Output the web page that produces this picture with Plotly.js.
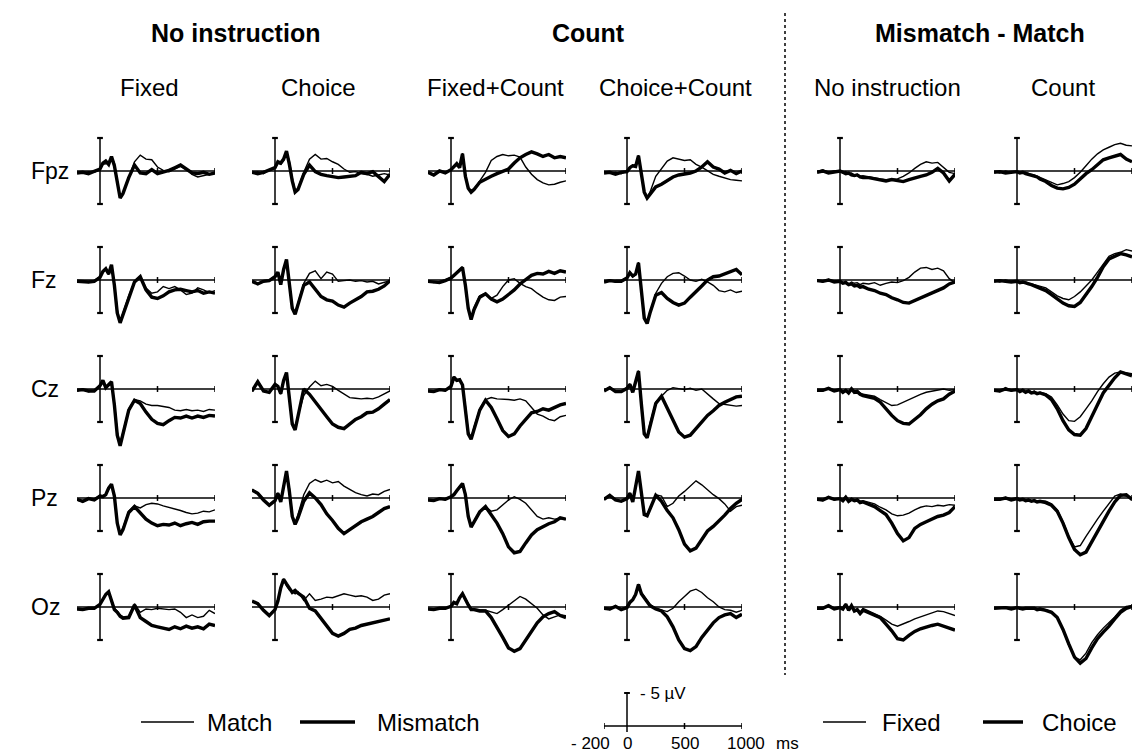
<!DOCTYPE html>
<html><head><meta charset="utf-8">
<script src="https://cdn.plot.ly/plotly-3.0.1.min.js"></script>
<style>html,body{margin:0;padding:0;background:#fff;} #chart{width:1134px;height:754px;}</style>
</head><body><div id="chart"></div>
<script>
// time axis (ms)
const times = [-200,-150,-100,-50,0, 25,50,75,100,125,150,175,200, 250,300,350,400,450,500,550,600,650,700,750,800,850,900,950,1000];

const rowLabels = ['Fpz','Fz','Cz','Pz','Oz'];
const groupTitles = ['No instruction','Count','Mismatch - Match'];
const colTitles = ['Fixed','Choice','Fixed+Count','Choice+Count','No instruction','Count'];
const legendLeft = ['Match','Mismatch'];
const legendRight = ['Fixed','Choice'];
const scaleTickLabels = ['- 200','0','500','1000'];
const scaleTickValues = [-200,0,500,1000];

// values in microvolts (negative plotted upward)
// ---- Fpz ----
const fpz_fixed_match      = [0.2,0.3,0.1,0.2,-0.2, -1.0,-1.1,-1.3,-2.1,-1.2,1.5,4.0,3.5, 1.2,-1.4,-2.4,-1.8,-1.7,-0.6,-0.1,0.1,-0.3,-0.7,-0.3,0.5,0.9,0.7,0.4,0.3];
const fpz_fixed_mismatch   = [0.3,0.2,0.4,0.1,-0.3, -1.2,-1.5,-1.0,-2.2,-0.8,2.0,4.1,3.4, 1.0,-0.9,0.3,0.4,-0.2,0.4,0.2,-0.1,-0.5,-0.9,-0.3,0.3,0.4,0.2,0.5,0.3];
const fpz_choice_match     = [0.3,0.1,0.4,-0.2,-0.4, -1.2,-1.0,-1.6,-2.9,-1.5,1.0,3.0,2.6, 0.2,-1.8,-2.5,-1.8,-1.9,-1.4,-1.0,-0.3,0.2,0.1,0.4,0.5,0.8,0.6,0.4,0.6];
const fpz_choice_mismatch  = [0.2,0.4,0.2,-0.1,-0.5, -1.4,-1.2,-1.8,-3.0,-1.0,1.5,3.2,2.8, 0.5,-0.9,0.1,0.5,0.7,0.9,1.0,0.9,0.8,0.7,0.2,0.4,0.1,0.8,1.6,0.5];
const fpz_fixcount_match   = [0.2,0.5,0.1,0.3,-0.3, -0.8,-1.0,-0.7,-2.7,0.5,2.5,3.2,2.8, 1.5,0.2,-1.6,-2.2,-2.5,-2.3,-2.4,-2.1,-0.6,0.5,1.3,1.8,2.1,2.0,1.7,1.5];
const fpz_fixcount_mismatch= [0.2,0.6,0.0,0.3,-0.2, -0.7,-1.1,-0.5,-2.6,0.8,2.6,3.2,2.8, 1.7,1.2,0.8,0.4,0.1,-0.3,-1.2,-2.0,-2.5,-2.9,-2.6,-2.2,-2.5,-2.0,-2.2,-2.0];
const fpz_chocount_match   = [0.1,0.3,0.2,0.4,0.0, -0.6,-0.9,-0.8,-2.4,0.5,3.0,4.0,3.2, 0.8,-0.3,-1.5,-2.0,-1.8,-1.6,-1.7,-1.0,-0.6,-0.1,0.5,0.8,1.1,1.3,1.4,1.5];
const fpz_chocount_mismatch= [0.3,0.2,0.5,0.2,0.1, -0.5,-0.8,-0.7,-2.3,0.8,3.2,4.1,3.5, 2.4,2.0,1.5,0.9,0.6,0.5,0.3,0.0,-0.6,-1.4,-0.6,-0.3,0.3,-0.1,0.4,0.0];
const fpz_dnoinst_fixed    = [0.1,-0.2,0.2,0.0,0.1, 0.3,0.1,0.4,0.3,0.6,0.5,0.8,0.7, 0.9,1.0,1.2,1.3,1.3,1.2,0.8,0.3,-0.4,-1.0,-1.4,-1.2,-1.3,-0.6,0.2,0.4];
const fpz_dnoinst_choice   = [0.2,0.0,0.3,0.1,0.0, 0.2,0.4,0.3,0.6,0.7,0.6,0.9,1.0, 1.0,1.2,1.4,1.5,1.3,1.4,1.6,1.3,1.0,0.8,0.6,0.2,-0.4,0.3,1.5,0.5];
const fpz_dcount_fixed     = [0.1,0.3,0.0,0.2,0.1, 0.2,0.3,0.2,0.4,0.5,0.6,0.8,1.0, 1.3,1.8,2.1,1.9,1.6,1.0,0.2,-0.8,-1.8,-2.6,-3.2,-3.6,-4.0,-4.2,-3.9,-3.8];
const fpz_dcount_choice    = [0.2,0.1,0.3,0.2,0.1, 0.3,0.2,0.4,0.5,0.6,0.7,0.9,1.2, 1.6,2.2,2.6,2.7,2.5,2.0,1.2,0.4,-0.2,-0.9,-1.7,-2.0,-2.2,-2.5,-1.8,-1.4];
// ---- Fz ----
const fz_fixed_match       = [0.3,0.2,0.4,0.1,-0.5, -1.2,-1.6,-0.8,-2.2,0.5,4.5,6.3,5.0, 2.4,0.2,-0.6,1.2,2.0,1.8,1.0,1.3,1.0,1.5,2.2,2.0,1.2,1.5,1.9,1.6];
const fz_fixed_mismatch    = [0.2,0.3,0.3,0.2,-0.4, -1.3,-1.7,-0.9,-2.3,0.8,5.0,6.5,5.2, 2.5,0.3,-0.5,1.5,2.6,2.8,2.4,1.8,1.5,1.4,1.6,1.8,1.6,2.0,1.8,2.0];
const fz_choice_match      = [0.3,0.5,0.1,0.0,-0.6, -1.1,0.6,-1.5,-3.0,0.5,4.0,5.0,3.5, 0.5,-1.0,-1.4,-0.2,-1.2,-0.9,0.2,0.1,0.0,0.2,0.1,0.3,0.2,0.6,0.3,0.1];
const fz_choice_mismatch   = [0.2,0.6,0.2,0.1,-0.5, -1.2,0.7,-1.6,-3.1,0.8,4.3,5.2,3.8, 0.8,0.3,1.5,2.5,3.0,3.2,3.8,4.1,3.5,3.0,2.5,1.8,1.7,1.4,0.9,0.1];
const fz_fixcount_match    = [0.1,0.4,0.2,0.0,-0.4, -0.8,-1.2,-1.5,-2.0,0.5,4.0,5.8,4.2, 2.4,2.0,2.8,2.3,1.0,0.0,-0.2,0.5,1.0,1.3,2.0,2.6,3.0,3.1,2.6,2.5];
const fz_fixcount_mismatch = [0.2,0.3,0.4,0.1,-0.3, -0.7,-1.1,-1.4,-1.9,0.8,4.3,6.0,4.5, 2.6,2.1,2.9,3.3,2.9,2.2,1.5,0.6,0.0,-0.7,-1.0,-0.9,-1.3,-1.0,-1.4,-1.2];
const fz_chocount_match    = [0.2,0.0,0.3,0.1,-0.4, -1.2,-0.5,-0.8,-2.7,1.0,5.5,6.4,4.8, 2.0,0.5,-0.5,-1.0,-1.1,-0.6,0.0,0.2,-0.1,0.3,0.8,1.6,1.8,1.5,1.9,1.7];
const fz_chocount_mismatch = [0.3,0.1,0.2,0.2,-0.3, -1.1,-0.6,-0.9,-2.6,1.2,5.8,6.6,5.0, 2.3,1.9,2.8,3.4,3.8,3.5,2.6,1.8,0.9,0.0,-0.5,-0.6,-0.9,-1.2,-1.6,-0.8];
const fz_dnoinst_fixed     = [0.0,0.3,-0.1,0.2,0.1, 0.4,0.2,0.6,0.3,0.5,0.4,0.7,0.5, 0.6,0.4,0.8,0.5,0.3,0.4,0.1,-0.4,-1.2,-1.8,-1.9,-1.6,-1.8,-1.4,-0.2,0.4];
const fz_dnoinst_choice    = [0.1,0.2,0.0,0.3,0.2, 0.5,0.4,0.7,0.6,0.9,0.8,1.1,1.0, 1.4,1.6,2.0,2.2,2.7,3.0,3.4,3.5,3.1,2.7,2.4,2.0,1.6,1.2,0.6,0.3];
const fz_dcount_fixed      = [0.1,0.3,0.0,0.2,0.1, 0.3,0.4,0.3,0.5,0.6,0.7,0.8,0.9, 1.2,1.8,2.4,2.8,3.0,2.5,1.8,0.9,0.0,-1.2,-2.5,-3.6,-4.0,-4.2,-4.6,-4.4];
const fz_dcount_choice     = [0.2,0.1,0.2,0.3,0.2, 0.4,0.3,0.5,0.6,0.7,0.9,1.0,1.2, 1.6,2.2,2.9,3.5,3.9,4.0,3.4,2.3,1.0,-0.4,-2.0,-3.2,-3.6,-4.0,-3.8,-3.5];
// ---- Cz ----
const cz_fixed_match       = [0.3,0.0,0.4,0.2,-0.6, -1.2,-0.3,-0.5,-1.0,2.0,6.5,8.3,6.5, 3.0,1.6,1.8,2.3,2.5,2.5,2.7,2.8,3.2,3.3,3.1,3.3,3.2,3.4,3.1,3.2];
const cz_fixed_mismatch    = [0.2,0.1,0.3,0.3,-0.5, -1.3,-0.2,-0.6,-1.1,2.4,7.0,8.6,6.8, 3.2,1.7,2.2,3.5,4.6,5.2,5.4,4.8,4.3,4.4,4.1,4.4,4.1,4.3,4.0,4.1];
const cz_choice_match      = [0.4,-1.2,0.2,0.6,-0.8, -0.5,0.8,-1.2,-2.4,1.5,5.0,6.0,4.0, 1.0,-0.3,-1.2,-0.5,-0.7,-0.4,0.2,0.8,1.3,1.4,1.5,1.4,1.5,1.2,0.8,0.3];
const cz_choice_mismatch   = [0.3,-1.1,0.3,0.5,-0.7, -0.4,0.7,-1.3,-2.5,1.8,5.3,6.2,4.3, 0.0,0.8,2.0,3.0,4.2,5.3,5.8,6.0,5.3,4.6,4.2,3.6,3.5,3.0,2.3,1.6];
const cz_fixcount_match    = [0.2,0.5,0.0,0.3,-0.5, -1.9,-1.2,-1.5,-0.5,2.5,6.5,7.4,5.8, 3.0,1.6,1.3,1.5,1.5,1.6,1.7,1.5,1.8,2.8,3.8,4.1,4.6,4.8,4.2,4.0];
const cz_fixcount_mismatch = [0.3,0.4,0.1,0.2,-0.4, -1.8,-1.3,-1.4,-0.6,2.8,6.8,7.6,6.0, 3.2,1.7,2.8,4.5,6.3,7.2,6.8,5.6,4.6,3.6,3.4,3.0,3.2,2.8,2.4,2.2];
const cz_chocount_match    = [0.2,-0.3,0.3,0.5,-0.2, -0.8,0.4,-1.0,-2.8,2.0,6.5,7.2,5.2, 2.0,1.1,0.2,-0.2,0.0,0.1,-0.1,0.2,0.0,0.8,1.5,2.2,2.3,2.5,2.6,2.5];
const cz_chocount_mismatch = [0.3,-0.2,0.4,0.4,-0.1, -0.7,0.5,-1.1,-2.7,2.3,6.8,7.4,5.5, 2.2,1.1,3.0,4.8,6.5,7.3,7.0,6.0,5.0,4.0,3.3,2.5,2.0,1.6,1.2,1.1];
const cz_dnoinst_fixed     = [0.1,0.3,-0.2,0.2,0.0, 0.4,0.1,0.5,-0.2,0.3,0.2,0.6,0.8, 1.0,1.1,1.6,2.0,2.5,2.4,2.0,1.6,1.1,0.8,0.5,0.3,0.2,0.0,0.2,0.1];
const cz_dnoinst_choice    = [0.2,0.2,-0.1,0.3,0.1, 0.5,0.2,0.6,0.0,0.5,0.4,0.8,1.0, 1.2,1.4,2.0,3.0,4.0,4.8,5.2,5.3,4.6,3.9,3.0,2.3,1.8,1.5,0.8,0.3];
const cz_dcount_fixed      = [0.1,0.4,-0.2,0.3,0.0, 0.3,0.1,0.4,0.2,0.5,0.3,0.6,0.5, 0.7,1.2,2.4,3.8,4.8,4.9,4.2,3.0,1.8,0.4,-0.8,-1.8,-2.4,-2.6,-2.4,-2.3];
const cz_dcount_choice     = [0.2,0.3,0.0,0.2,0.1, 0.4,0.2,0.5,0.3,0.6,0.5,0.7,0.6, 0.9,1.6,3.0,4.8,6.2,6.9,7.0,6.0,4.3,2.4,0.6,-0.6,-1.7,-2.6,-2.3,-2.0];
// ---- Pz ----
const pz_fixed_match       = [0.3,0.6,0.0,0.2,-0.4, -0.3,-0.6,-1.4,-2.0,-0.5,3.5,5.4,4.5, 2.0,1.2,1.5,1.0,0.8,0.9,1.2,1.4,1.6,1.9,2.2,2.4,2.3,2.0,2.1,1.8];
const pz_fixed_mismatch    = [0.2,0.5,0.1,0.3,-0.3, -0.2,-0.5,-1.5,-2.1,-0.3,3.8,5.6,4.8, 2.2,1.3,2.2,3.2,3.8,4.2,4.0,4.1,3.8,4.2,3.9,3.7,4.0,3.6,3.5,3.5];
const pz_choice_match      = [-1.3,-0.8,0.2,1.0,0.3, -0.8,0.5,-1.5,-4.0,-1.5,2.5,3.8,2.5, -0.5,-2.2,-2.8,-2.4,-2.7,-2.3,-2.5,-1.8,-1.3,-0.8,-0.5,-0.3,-0.6,-0.5,-1.0,-1.3];
const pz_choice_mismatch   = [-1.2,-0.7,0.3,1.1,0.4, -0.7,0.6,-1.6,-4.1,-1.0,2.8,4.0,3.0, 0.5,-0.8,0.0,1.0,2.4,3.4,4.6,5.4,4.8,4.2,3.6,3.2,2.8,2.2,1.6,1.3];
const pz_fixcount_match    = [0.2,0.5,0.0,0.3,-0.3, -0.6,-1.0,-1.8,-2.1,-0.8,2.5,4.3,3.5, 2.0,1.3,2.0,1.8,1.0,0.3,-0.2,0.2,0.8,1.8,2.8,3.2,3.0,3.2,3.1,3.2];
const pz_fixcount_mismatch = [0.3,0.4,0.1,0.2,-0.2, -0.5,-1.1,-1.7,-2.2,-0.5,2.8,4.4,3.6, 2.1,1.3,2.6,3.8,5.4,7.4,8.3,8.1,6.8,5.6,4.8,4.3,3.9,3.6,3.0,3.2];
const pz_chocount_match    = [0.3,-0.5,0.2,0.4,0.0, -0.8,0.5,-1.5,-4.0,-1.0,2.3,2.6,1.5, -0.5,-0.3,1.3,0.8,-0.3,-1.0,-1.8,-2.6,-2.0,-1.2,-0.5,0.1,0.9,2.0,1.3,1.1];
const pz_chocount_mismatch = [0.2,-0.4,0.3,0.5,0.1, -0.7,0.6,-1.6,-4.1,-0.8,2.5,2.7,1.6, -0.4,0.5,1.9,3.0,4.8,7.0,8.0,7.6,6.2,5.0,4.3,3.5,2.6,1.6,0.8,0.2];
const pz_dnoinst_fixed     = [0.1,0.4,-0.2,0.3,0.0, 0.3,-0.2,0.4,0.1,0.3,0.2,0.5,0.4, 0.6,0.9,1.4,1.8,2.4,2.7,2.6,2.3,1.8,1.4,1.2,1.3,1.1,1.2,1.0,1.1];
const pz_dnoinst_choice    = [0.2,0.3,-0.1,0.2,0.1, 0.4,-0.1,0.5,0.2,0.4,0.3,0.7,0.6, 0.9,1.3,1.9,2.5,3.8,5.4,6.5,6.0,4.6,4.0,3.6,3.2,2.8,2.6,2.2,1.3];
const pz_dcount_fixed      = [0.1,0.3,-0.1,0.2,0.0, 0.2,0.1,0.3,0.2,0.4,0.3,0.5,0.4, 0.5,0.9,1.8,3.6,5.8,7.4,7.2,5.8,4.4,3.2,2.0,0.8,-0.3,-0.6,-0.3,0.0];
const pz_dcount_choice     = [0.2,0.2,0.0,0.3,0.1, 0.3,0.2,0.4,0.3,0.5,0.4,0.6,0.5, 0.7,1.1,2.0,3.8,6.0,7.8,8.6,8.2,6.6,5.0,3.6,2.0,0.6,-0.4,-0.5,0.2];
// ---- Oz ----
const oz_fixed_match       = [0.2,0.5,0.1,0.3,-0.5, -1.2,-2.0,-2.4,-1.0,0.2,0.6,1.2,1.5, 1.4,-0.5,0.8,0.3,0.4,0.2,0.3,0.4,0.3,0.8,1.6,1.2,1.6,1.4,0.5,1.0];
const oz_fixed_mismatch    = [0.3,0.4,0.2,0.2,-0.4, -1.1,-1.9,-2.3,-0.8,0.4,0.8,1.4,1.7, 1.6,-0.3,1.6,2.2,2.8,3.0,3.2,3.4,3.0,3.3,2.9,3.2,3.0,3.3,2.6,2.8];
const oz_choice_match      = [-0.8,-0.6,0.4,1.2,0.3, -1.0,-3.0,-4.3,-3.2,-2.6,-2.4,-2.0,-2.3, -1.0,-2.0,-1.0,-1.2,-1.5,-1.4,-1.7,-2.0,-1.8,-1.6,-1.7,-1.5,-1.0,-1.2,-1.8,-2.0];
const oz_choice_mismatch   = [-0.9,-0.5,0.5,1.3,0.4, -0.9,-2.9,-4.2,-3.5,-2.8,-2.2,-2.5,-2.1, -1.5,0.2,0.6,1.8,3.0,4.0,4.4,4.0,3.4,3.2,2.8,2.6,2.5,2.2,2.0,1.8];
const oz_fixcount_match    = [0.2,0.5,0.1,0.3,-0.2, -0.8,-0.6,-1.5,-2.1,-1.2,-0.5,0.2,0.3, 0.4,0.5,0.8,1.0,0.4,-0.3,-1.0,-1.6,-1.2,-0.5,0.2,1.2,1.8,1.5,1.2,1.3];
const oz_fixcount_mismatch = [0.3,0.4,0.2,0.2,-0.1, -0.7,-0.5,-1.4,-2.0,-1.0,-0.3,0.4,0.4, 0.6,0.6,1.6,3.0,4.6,6.2,6.7,6.3,5.0,3.5,2.4,1.5,1.0,0.7,1.3,1.6];
const oz_chocount_match    = [0.1,0.4,-0.2,0.3,0.0, -0.8,-1.2,-2.0,-3.5,-2.2,-1.6,-1.0,-0.4, 0.2,0.5,0.7,0.2,-0.8,-1.6,-2.4,-2.7,-2.2,-1.4,-0.8,0.0,0.4,0.5,0.8,0.5];
const oz_chocount_mismatch = [0.2,0.3,-0.1,0.4,0.1, -0.7,-1.1,-1.9,-3.4,-2.0,-1.4,-0.8,-0.2, 0.3,0.6,1.5,3.0,5.0,6.3,6.6,6.0,4.6,3.4,2.4,1.6,1.2,1.0,1.6,1.1];
const oz_dnoinst_fixed     = [0.1,0.3,-0.3,0.2,0.0, 0.2,-0.5,0.4,-0.3,0.5,0.3,0.8,0.2, 0.6,0.9,1.4,2.0,2.6,2.9,2.6,2.2,1.8,1.5,1.2,0.9,0.6,0.7,1.0,1.3];
const oz_dnoinst_choice    = [0.2,0.2,-0.2,0.3,0.1, 0.3,-0.4,0.5,-0.2,0.6,0.4,1.0,0.5, 0.9,1.2,1.6,2.6,3.6,4.8,5.0,4.3,3.7,3.3,3.0,2.8,2.6,2.9,3.3,3.5];
const oz_dcount_fixed      = [0.1,0.2,0.0,0.2,0.0, 0.1,0.2,0.1,0.3,0.2,0.1,0.3,0.2, 0.4,0.7,1.5,3.5,5.8,7.6,8.0,7.0,5.4,4.2,3.2,2.4,1.5,0.5,-0.1,-0.2];
const oz_dcount_choice     = [0.2,0.1,0.1,0.3,0.1, 0.2,0.3,0.2,0.2,0.3,0.2,0.4,0.3, 0.5,0.8,1.6,3.4,5.6,7.6,8.5,7.8,6.2,4.8,3.8,2.9,1.8,0.8,0.2,-0.1];

// grid of [thin, thick] series per row / column
const panelData = [
  [[fpz_fixed_match,fpz_fixed_mismatch],[fpz_choice_match,fpz_choice_mismatch],[fpz_fixcount_match,fpz_fixcount_mismatch],[fpz_chocount_match,fpz_chocount_mismatch],[fpz_dnoinst_fixed,fpz_dnoinst_choice],[fpz_dcount_fixed,fpz_dcount_choice]],
  [[fz_fixed_match,fz_fixed_mismatch],[fz_choice_match,fz_choice_mismatch],[fz_fixcount_match,fz_fixcount_mismatch],[fz_chocount_match,fz_chocount_mismatch],[fz_dnoinst_fixed,fz_dnoinst_choice],[fz_dcount_fixed,fz_dcount_choice]],
  [[cz_fixed_match,cz_fixed_mismatch],[cz_choice_match,cz_choice_mismatch],[cz_fixcount_match,cz_fixcount_mismatch],[cz_chocount_match,cz_chocount_mismatch],[cz_dnoinst_fixed,cz_dnoinst_choice],[cz_dcount_fixed,cz_dcount_choice]],
  [[pz_fixed_match,pz_fixed_mismatch],[pz_choice_match,pz_choice_mismatch],[pz_fixcount_match,pz_fixcount_mismatch],[pz_chocount_match,pz_chocount_mismatch],[pz_dnoinst_fixed,pz_dnoinst_choice],[pz_dcount_fixed,pz_dcount_choice]],
  [[oz_fixed_match,oz_fixed_mismatch],[oz_choice_match,oz_choice_mismatch],[oz_fixcount_match,oz_fixcount_mismatch],[oz_chocount_match,oz_chocount_mismatch],[oz_dnoinst_fixed,oz_dnoinst_choice],[oz_dcount_fixed,oz_dcount_choice]]
];

// ---------- layout geometry (pixels) ----------
const W = 1134, H = 754;
const colAxisX = [100, 275, 451, 627, 840, 1017];
const rowBaseY = [171, 280, 389, 498, 607];
const PXMS = 0.115, PXUV = 6.6;
const YTOP = -6.5, YBOT = 10;
const FONT = 'Liberation Sans, Arial, sans-serif';
const THIN = 1.4, THICK = 3.4;

const px = x => x / W;
const py = y => 1 - y / H;

const traces = [];
const shapes = [];
const annotations = [];
const layout = {
  width: W, height: H,
  margin: {l: 0, r: 0, t: 0, b: 0},
  paper_bgcolor: '#fff', plot_bgcolor: 'rgba(0,0,0,0)',
  showlegend: false,
  shapes: shapes, annotations: annotations
};

function axName(k) { return k === 1 ? '' : String(k); }

function addAxes(k, ax, base, yTop, yBot, opts) {
  const xa = 'xaxis' + axName(k), ya = 'yaxis' + axName(k);
  layout[xa] = {domain: [px(ax - 200 * PXMS), px(ax + 1000 * PXMS)], range: [-200, 1000],
    visible: false, fixedrange: true, anchor: 'y' + axName(k)};
  layout[ya] = {domain: [py(base + yBot * PXUV), py(base + yTop * PXUV)], range: [yBot, yTop],
    visible: false, fixedrange: true, anchor: 'x' + axName(k)};
  const xr = 'x' + axName(k), yr = 'y' + axName(k);
  const L = (x0, y0, x1, y1, w) => shapes.push({type: 'line', xref: xr, yref: yr, x0, y0, x1, y1,
    line: {color: '#000', width: w}, layer: 'below'});
  L(-200, 0, 1000, 0, 1.5);
  L(0, -5, 0, opts.vBottom, 1.5);
  L(-25, -5, 25, -5, 2.2);
  if (opts.bottomCap) L(-25, 5, 25, 5, 2.2);
  opts.ticks.forEach(t => L(t, -0.45, t, 0.45, 1.5));
}

for (let r = 0; r < 5; r++) {
  for (let c = 0; c < 6; c++) {
    const k = r * 6 + c + 1;
    addAxes(k, colAxisX[c], rowBaseY[r], YTOP, YBOT, {vBottom: 5, bottomCap: true, ticks: [500, 1000]});
    const pair = panelData[r][c];
    // thick first, thin on top
    traces.push({type: 'scatter', mode: 'lines', x: times, y: pair[1], xaxis: 'x' + axName(k), yaxis: 'y' + axName(k),
      line: {color: '#000', width: THICK}, hoverinfo: 'skip', cliponaxis: false});
    traces.push({type: 'scatter', mode: 'lines', x: times, y: pair[0], xaxis: 'x' + axName(k), yaxis: 'y' + axName(k),
      line: {color: '#000', width: THIN}, hoverinfo: 'skip', cliponaxis: false});
  }
}

// scale bar subplot
const SB = 31, sbAx = 627, sbBase = 726;
addAxes(SB, sbAx, sbBase, -6.5, 3, {vBottom: 0.9, bottomCap: false, ticks: [-200, 500, 1000]});
const sbx = 'x' + SB, sby = 'y' + SB;
const tickFont = {family: FONT, size: 17, color: '#000'};
scaleTickValues.forEach((v, i) => {
  annotations.push({xref: sbx, yref: sby, x: v, y: 2.6, text: scaleTickLabels[i], showarrow: false,
    xanchor: i === 0 ? 'right' : 'center', yanchor: 'middle', font: tickFont,
    xshift: i === 0 ? 8 : (i === 3 ? 4 : 0)});
});
annotations.push({xref: sbx, yref: sby, x: 1000, y: 2.6, text: 'ms', showarrow: false,
  xanchor: 'left', yanchor: 'middle', font: tickFont, xshift: 32});
annotations.push({xref: sbx, yref: sby, x: 0, y: -4.9, text: '- 5 \u00B5V', showarrow: false,
  xanchor: 'left', yanchor: 'middle', font: tickFont, xshift: 11});

// titles
const groupX = [235, 588, 980];
groupTitles.forEach((t, i) => annotations.push({xref: 'paper', yref: 'paper', x: px(groupX[i]), y: py(33),
  text: '<b>' + t + '</b>', showarrow: false, xanchor: 'center', yanchor: 'middle',
  font: {family: FONT, size: 25, color: '#000'}}));
const colTitleX = [149, 318, 495, 675, 887, 1063];
colTitles.forEach((t, i) => annotations.push({xref: 'paper', yref: 'paper', x: px(colTitleX[i]), y: py(87),
  text: t, showarrow: false, xanchor: 'center', yanchor: 'middle',
  font: {family: FONT, size: 24, color: '#000'}}));
rowLabels.forEach((t, i) => annotations.push({xref: 'paper', yref: 'paper', x: px(29), y: py(rowBaseY[i]),
  text: t, showarrow: false, xanchor: 'left', yanchor: 'middle',
  font: {family: FONT, size: 23, color: '#000'}}));

// dotted separator
shapes.push({type: 'line', xref: 'paper', yref: 'paper', x0: px(785), x1: px(785), y0: py(13), y1: py(675),
  line: {color: '#000', width: 1.5, dash: 'dot'}});

// legends
const legY = 722;
const legItems = [
  {x0: 141, x1: 194, w: THIN, tx: 205, text: legendLeft[0]},
  {x0: 300, x1: 355, w: THICK, tx: 375, text: legendLeft[1]},
  {x0: 823, x1: 866, w: THIN, tx: 880, text: legendRight[0]},
  {x0: 983, x1: 1023, w: THICK, tx: 1040, text: legendRight[1]}
];
legItems.forEach(it => {
  shapes.push({type: 'line', xref: 'paper', yref: 'paper', x0: px(it.x0), x1: px(it.x1), y0: py(legY), y1: py(legY),
    line: {color: '#000', width: it.w}});
  annotations.push({xref: 'paper', yref: 'paper', x: px(it.tx), y: py(legY), text: it.text, showarrow: false,
    xanchor: 'left', yanchor: 'middle', font: {family: FONT, size: 24, color: '#000'}});
});

// invisible trace to register scale bar axes
traces.push({type: 'scatter', mode: 'lines', x: [-200, 1000], y: [0, 0], xaxis: sbx, yaxis: sby,
  line: {color: 'rgba(0,0,0,0)', width: 0}, hoverinfo: 'skip'});

Plotly.newPlot('chart', traces, layout, {staticPlot: true, displayModeBar: false});
</script></body></html>
